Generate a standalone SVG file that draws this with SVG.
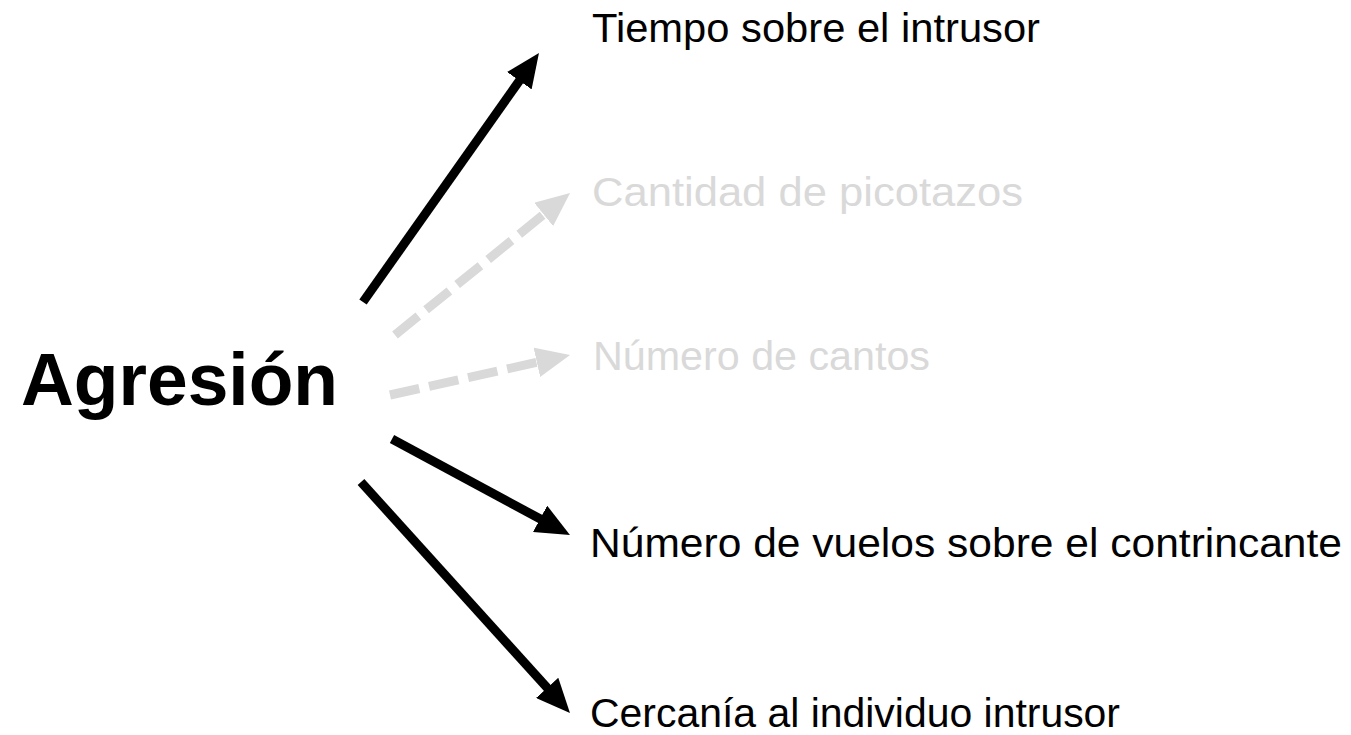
<svg xmlns="http://www.w3.org/2000/svg" width="1351" height="735" viewBox="0 0 1351 735">
  <style>
    .lbl { font-family: "Liberation Sans", Arial, sans-serif; font-size: 40px; fill: #000; }
    .dim { fill: #d9d9d9; }
    .main { font-family: "Liberation Sans", Arial, sans-serif; font-size: 75px; font-weight: bold; fill: #000; }
    .solid { stroke: #000; stroke-width: 9; fill: none; marker-end: url(#headBlack); }
    .dashed { stroke: #d9d9d9; stroke-width: 9; fill: none; stroke-dasharray: 30 10; marker-end: url(#headGray); }
  </style>
  <defs>
    <marker id="headBlack" markerUnits="userSpaceOnUse" markerWidth="34" markerHeight="30" refX="2" refY="15" orient="auto" viewBox="0 0 34 30">
      <path d="M0,0 L34,15 L0,30 z" fill="#000"/>
    </marker>
    <marker id="headGray" markerUnits="userSpaceOnUse" markerWidth="34" markerHeight="30" refX="2" refY="15" orient="auto" viewBox="0 0 34 30">
      <path d="M0,0 L34,15 L0,30 z" fill="#d9d9d9"/>
    </marker>
  </defs>
  <rect width="1351" height="735" fill="#fff"/>
  <g id="connectors">
    <line class="solid" x1="363" y1="302" x2="520.5" y2="79.1"/>
    <line class="dashed" x1="395" y1="335" x2="545.2" y2="213.2"/>
    <line class="dashed" x1="390" y1="395" x2="538.8" y2="361.9"/>
    <line class="solid" x1="392" y1="439" x2="541.8" y2="519.8"/>
    <line class="solid" x1="361" y1="482" x2="548.5" y2="689.3"/>
  </g>
  <g id="agresion">
    <text class="main" x="21" y="405" textLength="317" lengthAdjust="spacingAndGlyphs">Agresión</text>
  </g>
  <g id="tiempo">
    <text class="lbl" x="592" y="42" textLength="448" lengthAdjust="spacingAndGlyphs">Tiempo sobre el intrusor</text>
  </g>
  <g id="picotazos">
    <text class="lbl dim" x="592" y="206" textLength="431" lengthAdjust="spacingAndGlyphs">Cantidad de picotazos</text>
  </g>
  <g id="cantos">
    <text class="lbl dim" x="593" y="370" textLength="337" lengthAdjust="spacingAndGlyphs">Número de cantos</text>
  </g>
  <g id="vuelos">
    <text class="lbl" x="590" y="557" textLength="752" lengthAdjust="spacingAndGlyphs">Número de vuelos sobre el contrincante</text>
  </g>
  <g id="cercania">
    <text class="lbl" x="590" y="727" textLength="530" lengthAdjust="spacingAndGlyphs">Cercanía al individuo intrusor</text>
  </g>
</svg>
